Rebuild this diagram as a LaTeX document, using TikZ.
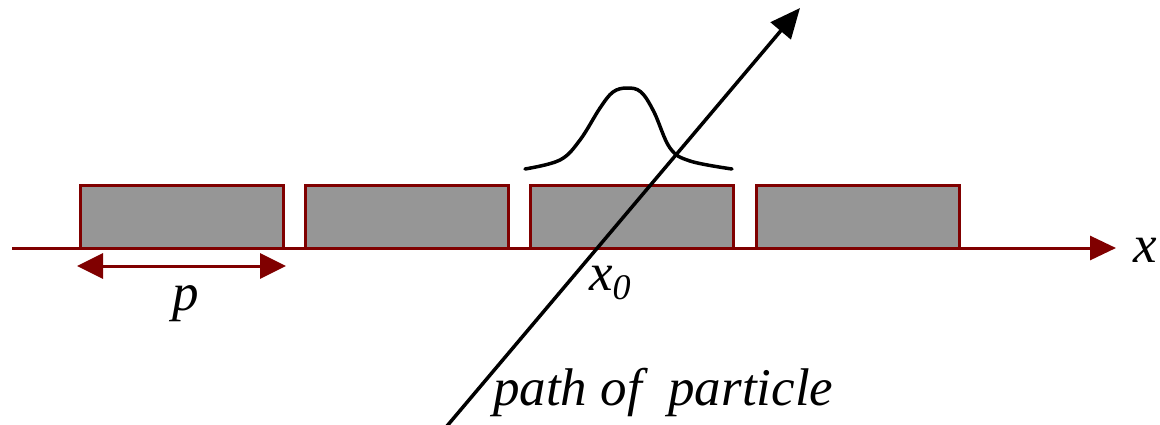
\documentclass[tikz,border=0pt]{standalone}
\usepackage{fontspec}
\setmainfont{Liberation Serif}
\usetikzlibrary{arrows.meta}
\definecolor{maroon}{HTML}{800000}
\definecolor{cellgrey}{HTML}{969696}
\begin{document}
\begin{tikzpicture}[x=1pt,y=-1pt,
  cell/.style={draw=maroon,fill=cellgrey,line width=3pt,minimum width=203pt,minimum height=63pt,inner sep=0pt,outer sep=0pt},
  axisline/.style={draw=maroon,line width=3pt},
  lbl/.style={inner sep=0pt,font=\fontsize{53}{53}\selectfont\itshape}]
\useasboundingbox (0,0) rectangle (1160,424);
\node[cell] (b1) at (181.5,216.5) {};
\node[cell] (b2) at (406.5,216.5) {};
\node[cell] (b3) at (631.5,216.5) {};
\node[cell] (b4) at (857.5,216.5) {};
\coordinate (a0) at (12,248);
\coordinate (a1) at (1116,248);
\draw[axisline,-{Triangle[length=26pt,width=24pt]}] (a0) -- (a1);
\coordinate (p0) at (77,266);
\coordinate (p1) at (286,266);
\draw[axisline,{Triangle[length=26pt,width=25pt]}-{Triangle[length=26pt,width=25pt]}] (p0) -- (p1);
\node[lbl,anchor=base] (plbl) at (186,310) {p};
\node[lbl,anchor=base west] (xlbl) at (1133,262) {x};
\node[lbl,anchor=base west] (x0lbl) at (589,290) {x\raisebox{-9pt}{\fontsize{36}{36}\selectfont 0}};
\draw[line width=3.5pt,line cap=round,line join=round] plot[smooth,tension=0.6] coordinates {(525,169) (560,160) (580,140) (600,108) (613,92) (627,88) (641,92) (654,112) (670,148) (690,161) (732,169)};
\coordinate (s0) at (447,426);
\coordinate (s1) at (800,8);
\draw[line width=3.5pt,-{Triangle[length=30pt,width=26pt]}] (s0) -- (s1);
\node[lbl,anchor=base west] (path) at (493,405) {path of\ \ particle};
\end{tikzpicture}
\end{document}
